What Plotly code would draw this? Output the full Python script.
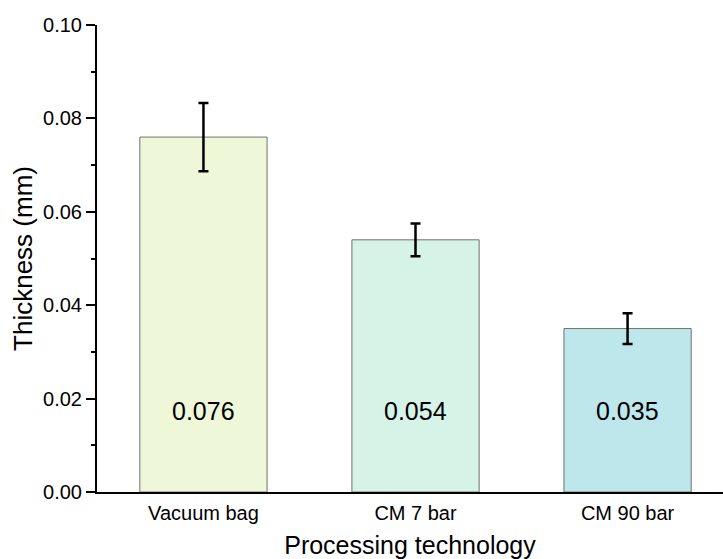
import plotly.graph_objects as go

# Film thickness by processing route
categories = ["Vacuum bag", "CM 7 bar", "CM 90 bar"]
thickness = [0.076, 0.054, 0.035]
thickness_err = [0.0073, 0.0035, 0.0033]
bar_colors = ["#EEF7D8", "#D5F3E6", "#BEE7EC"]

font_family = "Liberation Sans, Arial, sans-serif"

fig = go.Figure()
fig.add_trace(go.Bar(
    x=categories,
    y=thickness,
    width=0.6,
    marker=dict(color=bar_colors, line=dict(color="#707070", width=1)),
    error_y=dict(type="data", array=thickness_err, visible=True,
                 color="black", thickness=2.5, width=5),
    showlegend=False,
))

# Value labels inside the bars
for cat, val in zip(categories, thickness):
    fig.add_annotation(x=cat, y=0.0173, text=f"{val:.3f}", showarrow=False,
                       font=dict(size=25, color="black", family=font_family),
                       xanchor="center", yanchor="middle")

fig.update_layout(
    width=723, height=559,
    margin=dict(l=97, r=0, t=25, b=67),
    plot_bgcolor="white", paper_bgcolor="white",
    font=dict(family=font_family, color="black"),
    bargap=0.4,
)

fig.update_xaxes(
    range=[-0.502, 2.45],
    showline=True, linecolor="black", linewidth=2,
    ticks="", tickfont=dict(size=20),
    ticklabelstandoff=2,
    title=dict(text="Processing technology", font=dict(size=25), standoff=14),
    showgrid=False, zeroline=False,
)

fig.update_yaxes(
    range=[0, 0.1],
    dtick=0.02, tickformat=".2f",
    showline=True, linecolor="black", linewidth=2,
    ticks="outside", ticklen=9, tickwidth=2, tickcolor="black",
    tickfont=dict(size=20),
    minor=dict(dtick=0.01, ticks="outside", ticklen=4, tickwidth=2, tickcolor="black"),
    title=dict(text="Thickness (mm)", font=dict(size=26), standoff=3),
    showgrid=False, zeroline=False,
)

fig.write_html("out.html")
